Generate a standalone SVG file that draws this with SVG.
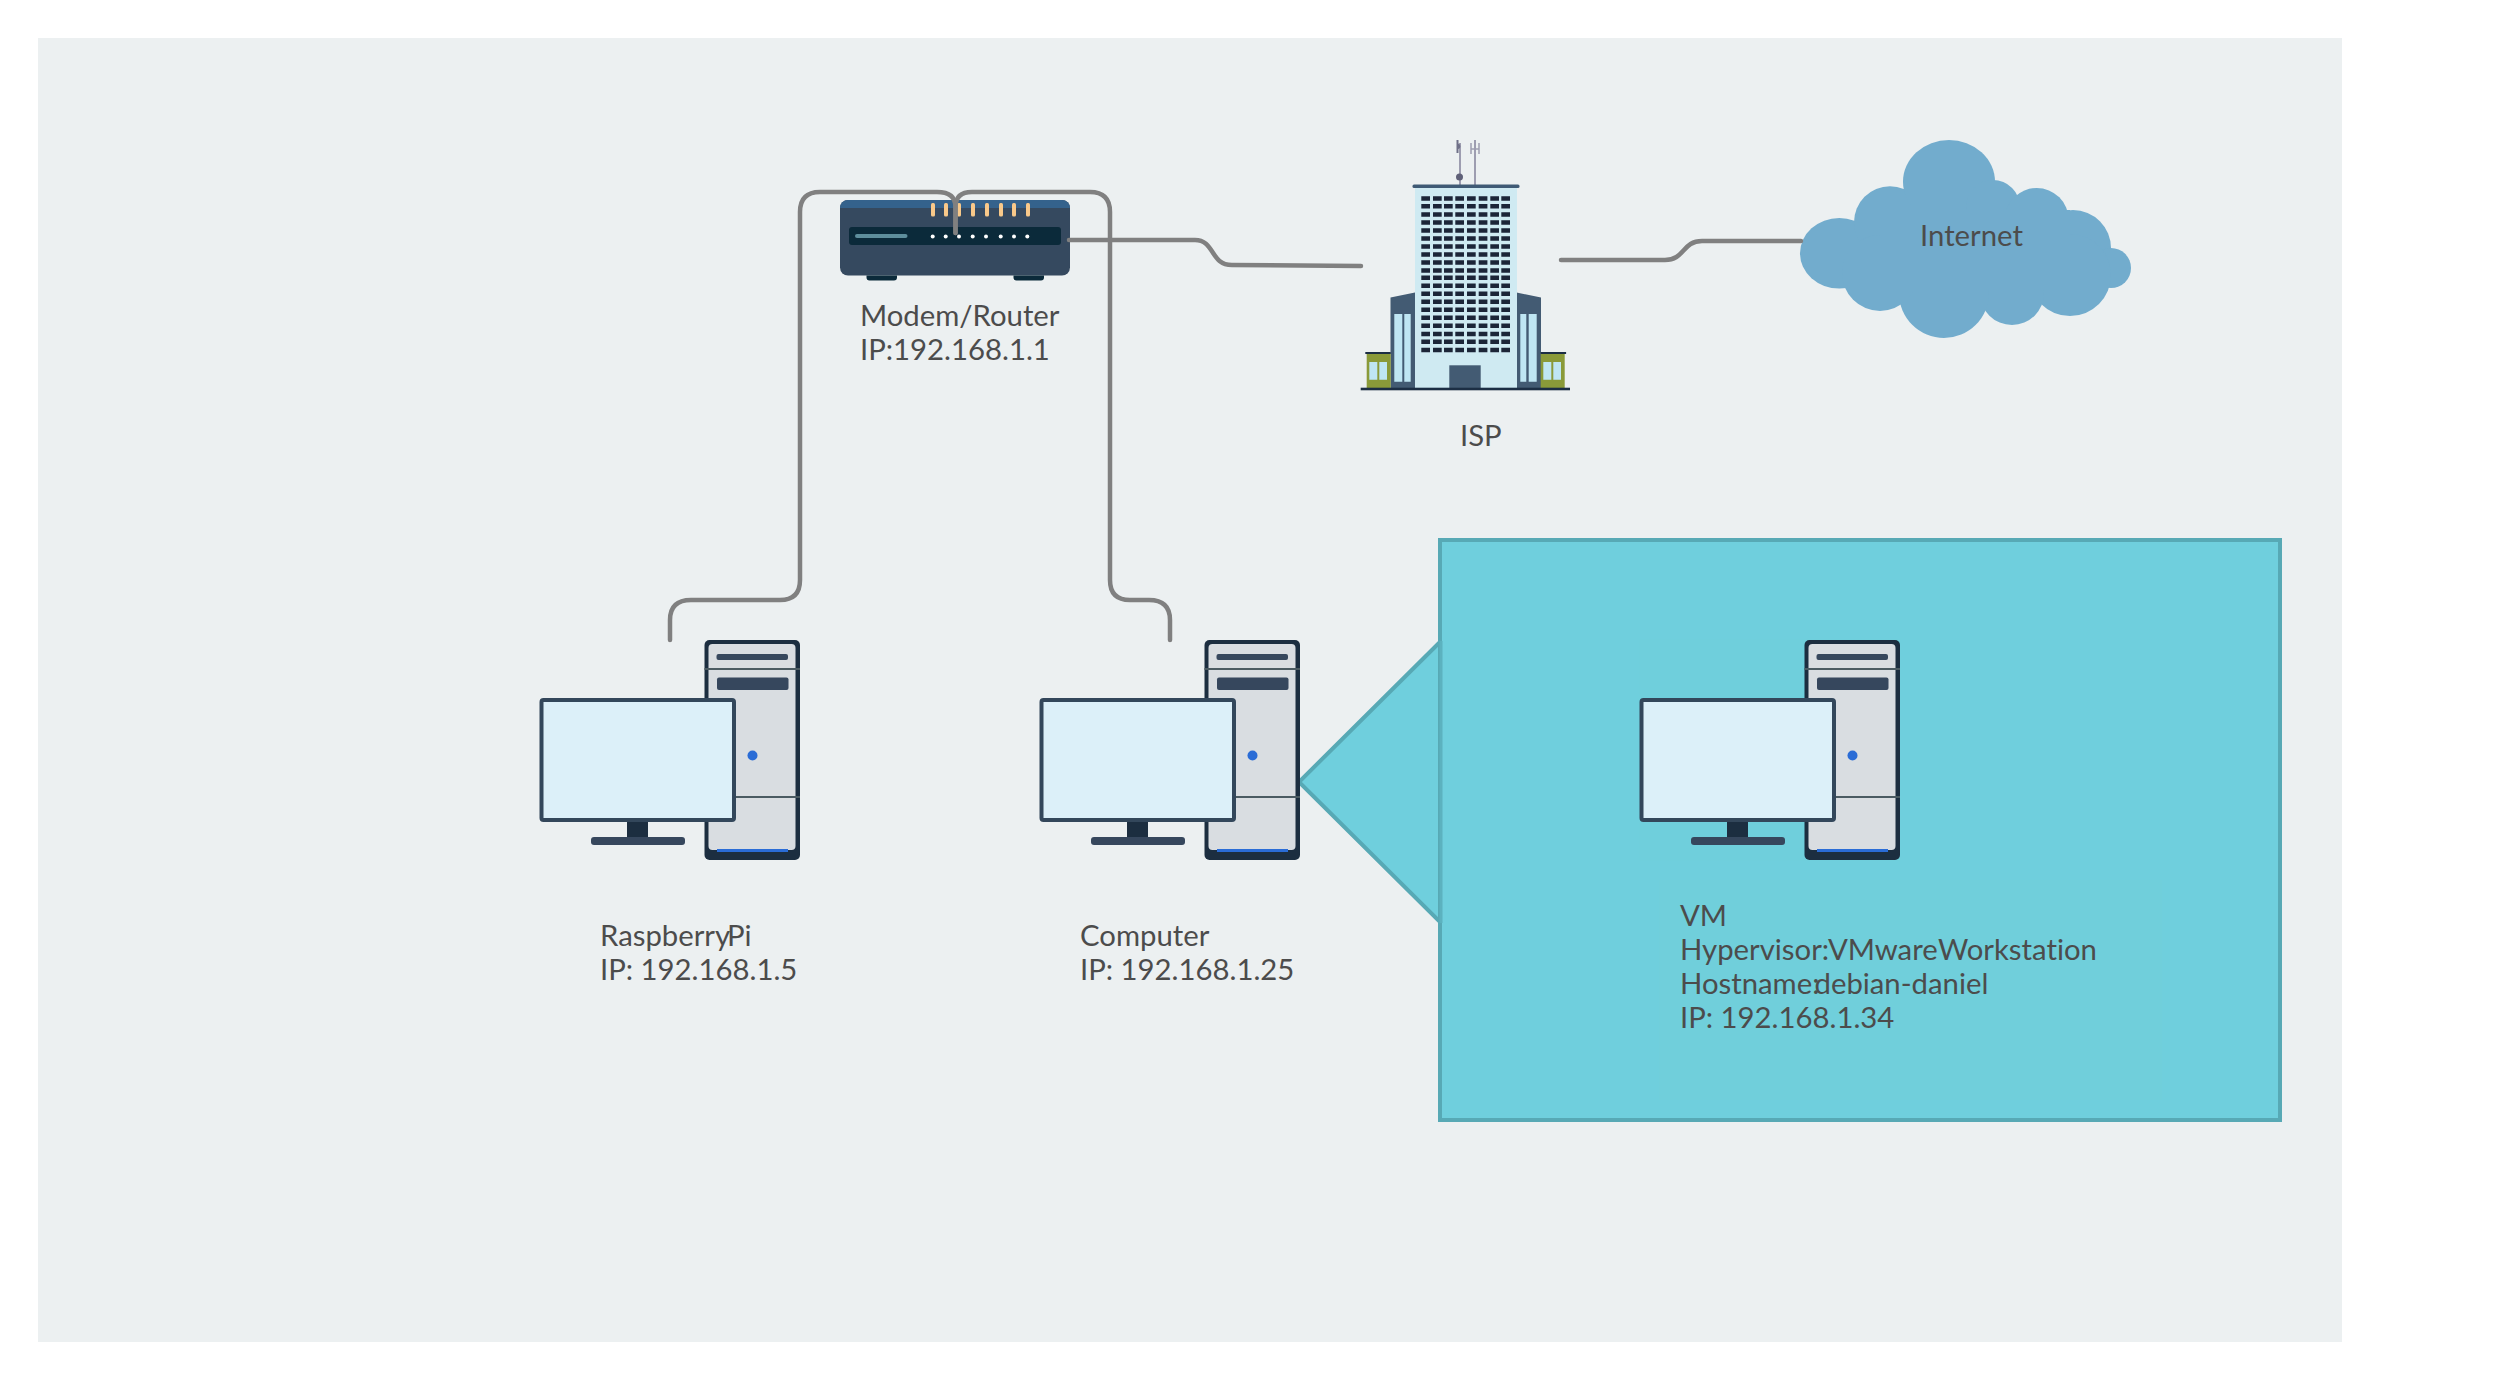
<svg xmlns="http://www.w3.org/2000/svg" width="2500" height="1380" viewBox="0 0 2500 1380">
<style>
.t{font-family:Lato,"Open Sans","Liberation Sans",sans-serif;font-size:29.300px;fill:#4c4c4c;font-variant-ligatures:none}
.c{fill:none;stroke:#808080;stroke-width:4.500;stroke-linecap:round}
.w{fill:#1c2538}
.g{fill:#bfe6f3}
.cl{fill:#72accd}
</style>
<defs>
<g id="pc">
<rect x="704.500" y="640" width="95.500" height="220" rx="5" fill="#1c2e40"/>
<rect x="708.500" y="644" width="87" height="206" rx="4" fill="#d9dde1"/>
<rect x="704.500" y="668" width="95.500" height="2" fill="#4b5b62"/>
<rect x="716.500" y="654" width="71.500" height="6" rx="2" fill="#36475d"/>
<rect x="717" y="677.500" width="71.500" height="12.500" rx="2" fill="#36475d"/>
<circle cx="752.500" cy="755.500" r="5" fill="#2a6cd6"/>
<rect x="736" y="796" width="64" height="2" fill="#4b5b62"/>
<rect x="717" y="849" width="71" height="3" fill="#2a6cd6"/>
<rect x="627" y="820" width="21" height="18" fill="#1c2e40"/>
<rect x="591" y="837" width="94" height="8" rx="3" fill="#36475d"/>
<rect x="541.500" y="700" width="192.500" height="120" rx="2" fill="#dcf0f9" stroke="#33475b" stroke-width="4"/>
</g>
<path id="row" class="w" d="M1421.300 0h8.700v4.500h-8.700ZM1433 0h8.700v4.500h-8.700ZM1444 0h8.700v4.500h-8.700ZM1455.300 0h8.700v4.500h-8.700ZM1467 0h8.700v4.500h-8.700ZM1478.700 0h8.700v4.500h-8.700ZM1490.300 0h8.700v4.500h-8.700ZM1501.300 0h8.700v4.500h-8.700Z"/>
</defs>
<rect width="2500" height="1380" fill="#fff"/>
<rect id="background" x="38" y="38" width="2304" height="1304" fill="#ecf0f1"/>

<g id="vm-callout">
<path d="M1441 641L1299 782L1441 923Z" fill="#6fcfdd" stroke="#57a9b5" stroke-width="4"/>
<rect x="1440" y="540" width="840" height="580" fill="#6fcfdd" stroke="#57a9b5" stroke-width="4"/>
<path d="M1441 641V923" fill="none" stroke="#5cb2bf" stroke-width="3"/>
<rect x="1639" y="639" width="261" height="222" fill="#72cfd9" opacity=".3"/>
<rect x="1659" y="880" width="503" height="220" fill="#72cfd9" opacity=".4"/>
</g>

<g id="router">
<rect x="840" y="200" width="230" height="75.500" rx="8" fill="#35495f"/>
<path d="M840 208a8 8 0 0 1 8-8h214a8 8 0 0 1 8 8Z" fill="#34628c"/>
<rect x="849" y="227" width="212" height="18" rx="3" fill="#0b2a3a"/>
<rect x="855" y="234" width="52.500" height="4" rx="2" fill="#5e8e9c"/>
<g fill="#f8c98a">
<rect x="931" y="203" width="4" height="13.500" rx="1.500"/><rect x="944" y="203" width="4" height="13.500" rx="1.500"/><rect x="957" y="203" width="4" height="13.500" rx="1.500"/><rect x="971" y="203" width="4" height="13.500" rx="1.500"/><rect x="985" y="203" width="4" height="13.500" rx="1.500"/><rect x="999" y="203" width="4" height="13.500" rx="1.500"/><rect x="1012" y="203" width="4" height="13.500" rx="1.500"/><rect x="1026" y="203" width="4" height="13.500" rx="1.500"/>
</g>
<g fill="#fff">
<circle cx="932.700" cy="236.500" r="2"/><circle cx="945.700" cy="236.500" r="2"/><circle cx="959" cy="236.500" r="2"/><circle cx="972.700" cy="236.500" r="2"/><circle cx="986" cy="236.500" r="2"/><circle cx="1000.700" cy="236.500" r="2"/><circle cx="1014" cy="236.500" r="2"/><circle cx="1027.300" cy="236.500" r="2"/>
</g>
<path d="M866.500 275.500h30.500v2a3 3 0 0 1-3 3h-24.500a3 3 0 0 1-3-3ZM1013.500 275.500h30.500v2a3 3 0 0 1-3 3h-24.500a3 3 0 0 1-3-3Z" fill="#0b2a3a"/>
<text class="t" x="860" y="326">Modem/Router</text>
<text class="t" x="860" y="360">IP:192.168.1.1</text>
</g>

<g id="isp">
<path d="M1460 143V185M1475 140V185" stroke="#9d9db0" stroke-width="2" fill="none"/>
<path d="M1471 143V154M1479 143V154M1471 149H1479" stroke="#9d9db0" stroke-width="1.500" fill="none"/>
<circle cx="1459.500" cy="177" r="3.500" fill="#5f6078"/>
<path d="M1456.500 140L1458.500 140V143.500C1461 145 1461 148 1458.500 149V153L1456.500 153Z" fill="#6f7088"/>
<path d="M1390.500 297.500L1415 292.500V388H1390.500ZM1541 297.500L1516.500 292.500V388H1541Z" fill="#435b73"/>
<rect x="1366.700" y="353.300" width="24" height="34.700" fill="#8a9a39"/>
<rect x="1540.700" y="353.300" width="24" height="34.700" fill="#8a9a39"/>
<rect x="1365.300" y="352" width="25.400" height="2" fill="#1c2e44"/>
<rect x="1540.700" y="352" width="25.400" height="2" fill="#1c2e44"/>
<rect x="1415" y="187" width="102" height="201" fill="#cfeaf2"/>
<rect x="1412.500" y="184.500" width="107" height="3.500" rx="1.500" fill="#3f5a75"/>
<rect x="1449.300" y="365.300" width="31.400" height="22.700" fill="#435b73"/>
<path class="g" d="M1394.300 314h8v67.700h-8ZM1404.300 314h6.400v67.700h-6.400ZM1520.300 314h6v67.700h-6ZM1528.700 314h8v67.700h-8ZM1369.300 362h8v17.700h-8ZM1379.300 362h7.700v17.700h-7.700ZM1543.300 362h8v17.700h-8ZM1553.300 362h7.700v17.700h-7.700Z"/>
<use href="#row" y="196.300"/><use href="#row" y="204"/><use href="#row" y="212.300"/><use href="#row" y="220.300"/><use href="#row" y="228.300"/>
<use href="#row" y="236.300"/><use href="#row" y="244.300"/><use href="#row" y="252.300"/><use href="#row" y="260.300"/><use href="#row" y="268.300"/>
<use href="#row" y="275.500"/><use href="#row" y="283.500"/><use href="#row" y="291.500"/><use href="#row" y="299.500"/><use href="#row" y="307.500"/>
<use href="#row" y="315.500"/><use href="#row" y="323.500"/><use href="#row" y="331.700"/><use href="#row" y="339.500"/><use href="#row" y="347.700"/>
<rect x="1360.700" y="387.700" width="209.300" height="2.600" fill="#1c2e44"/>
<text class="t" x="1460" y="446">ISP</text>
</g>

<g id="internet">
<ellipse class="cl" cx="1839.300" cy="253.300" rx="39.300" ry="35.300"/>
<circle class="cl" cx="1890" cy="222.300" r="36"/>
<ellipse class="cl" cx="1949" cy="181.700" rx="46" ry="41.700"/>
<circle class="cl" cx="1993" cy="207" r="27"/>
<circle class="cl" cx="2036.700" cy="220" r="32"/>
<circle class="cl" cx="2073" cy="248" r="38"/>
<circle class="cl" cx="2111" cy="268" r="20"/>
<circle class="cl" cx="2070" cy="275" r="41"/>
<circle class="cl" cx="2012" cy="293" r="32"/>
<circle class="cl" cx="1944" cy="293" r="45"/>
<circle class="cl" cx="1880" cy="273" r="38"/>
<rect class="cl" x="1880" y="210" width="190" height="80"/>
<text class="t" x="1920" y="246">Internet</text>
</g>

<g id="raspberrypi">
<use href="#pc"/>
<text class="t" x="600" y="946">Raspberry</text>
<text class="t" x="727" y="946">Pi</text>
<text class="t" x="600" y="980">IP: 192.168.1.5</text>
</g>
<g id="computer">
<use href="#pc" x="500"/>
<text class="t" x="1080" y="946">Computer</text>
<text class="t" x="1080" y="980">IP: 192.168.1.25</text>
</g>
<g id="vm">
<use href="#pc" x="1100"/>
<text class="t" x="1680" y="926">VM</text>
<text class="t" x="1680" y="960">Hypervisor:</text>
<text class="t" x="1828" y="960">VMware</text>
<text class="t" x="1938" y="960">Workstation</text>
<text class="t" x="1680" y="994">Hostname:</text>
<text class="t" x="1814.500" y="994">debian-daniel</text>
<text class="t" x="1680" y="1028">IP: 192.168.1.34</text>
</g>

<g id="connectors">
<path class="c" d="M670 640V620Q670 600 691 600H780Q800 600 800 580V212Q800 192 820 192H937Q955.500 192 955.500 207V233"/>
<path class="c" d="M1170 640V620Q1170 600 1149 600H1130Q1110 600 1110 580V212Q1110 192 1090 192H972Q955.500 192 955.500 207V233"/>
<path class="c" d="M1069 240H1195C1215 240 1210 265 1232 265L1361 266"/>
<path class="c" d="M1561 260H1665C1685 260 1682 241 1702 241H1801"/>
</g>
</svg>
